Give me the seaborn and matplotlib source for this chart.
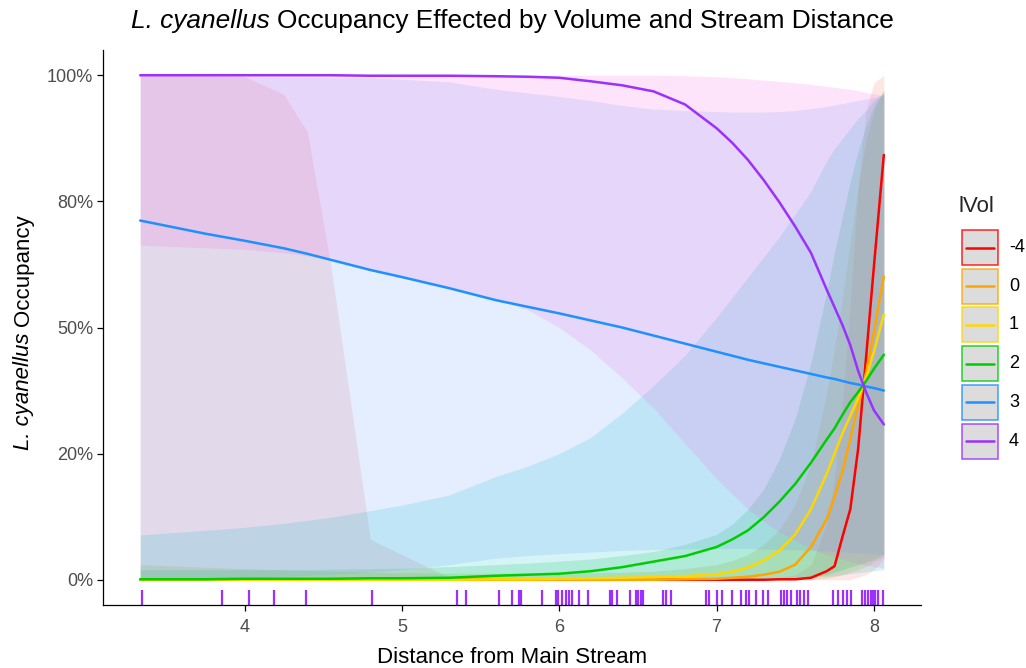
import numpy as np
import pandas as pd
import matplotlib
matplotlib.use("Agg")
import matplotlib.pyplot as plt
import seaborn as sns
from matplotlib.patches import Rectangle
from matplotlib.lines import Line2D

# ---------------- data ----------------
levels = ["-4", "0", "1", "2", "3", "4"]
line_colors = ["#FF0000", "#FFA500", "#FFD700", "#00CD00", "#1E90FF", "#9B30FF"]
fill_colors = ["#F8766D", "#B79F00", "#00BA38", "#00BFC4", "#619CFF", "#F564E3"]

dist = [3.337, 3.75, 4.0, 4.25, 4.4, 4.55, 4.8, 5.0, 5.3, 5.6, 5.8, 6.0, 6.2, 6.4, 6.6, 6.8,
        7.0, 7.1, 7.2, 7.3, 7.4, 7.5, 7.6, 7.7, 7.75, 7.8, 7.85, 7.9, 7.95, 8.0, 8.063]

# predicted occupancy per lVol level
fit_m4 = [0, 0, 0, 0, 0, 0, 0, 0, 0, 0, 0, 0, 0, 0, 0, 0,
          0, 0, 0, 0, 0.001, 0.001, 0.004, 0.017, 0.027, 0.085, 0.14, 0.26, 0.44, 0.621, 0.842]
fit_0 = [0, 0, 0, 0, 0, 0, 0, 0, 0, 0, 0, 0, 0, 0, 0, 0.001,
         0.002, 0.004, 0.006, 0.010, 0.016, 0.03, 0.065, 0.12, 0.165, 0.215, 0.28, 0.345, 0.41, 0.492, 0.601]
fit_1 = [0, 0, 0, 0, 0, 0, 0, 0, 0, 0.001, 0.001, 0.002, 0.003, 0.004, 0.005, 0.007,
         0.011, 0.016, 0.024, 0.038, 0.058, 0.09, 0.14, 0.21, 0.25, 0.29, 0.325, 0.36, 0.40, 0.452, 0.526]
fit_2 = [0.001, 0.001, 0.002, 0.002, 0.002, 0.002, 0.003, 0.003, 0.004, 0.008, 0.010, 0.012, 0.017, 0.025, 0.036, 0.047,
         0.065, 0.080, 0.098, 0.124, 0.155, 0.19, 0.232, 0.278, 0.30, 0.327, 0.352, 0.372, 0.394, 0.418, 0.446]
fit_3 = [0.712, 0.686, 0.672, 0.657, 0.646, 0.634, 0.614, 0.600, 0.578, 0.554, 0.541, 0.528, 0.514, 0.500, 0.484, 0.468,
         0.452, 0.444, 0.436, 0.429, 0.422, 0.415, 0.408, 0.401, 0.398, 0.394, 0.390, 0.387, 0.383, 0.380, 0.375]
fit_4 = [1.0, 1.0, 1.0, 1.0, 1.0, 1.0, 0.999, 0.999, 0.999, 0.998, 0.997, 0.995, 0.988, 0.980, 0.968, 0.942,
         0.895, 0.866, 0.832, 0.792, 0.748, 0.700, 0.648, 0.575, 0.540, 0.505, 0.465, 0.414, 0.372, 0.336, 0.308]

# confidence ribbons (lower / upper)
lo_m4 = [0, 0, 0, 0, 0, 0, 0, 0, 0, 0, 0, 0, 0, 0, 0, 0,
         0, 0, 0, 0, 0, 0, 0, 0, 0, 0, 0, 0.005, 0.01, 0.02, 0.04]
hi_m4 = [1.0, 1.0, 0.998, 0.962, 0.887, 0.62, 0.08, 0.05, 0.005, 0.002, 0.001, 0.001, 0.001, 0.001, 0.001, 0.001,
         0.001, 0.001, 0.002, 0.003, 0.005, 0.01, 0.03, 0.11, 0.2, 0.35, 0.55, 0.78, 0.93, 0.985, 1.0]
lo_0 = [0, 0, 0, 0, 0, 0, 0, 0, 0, 0, 0, 0, 0, 0, 0, 0,
        0, 0, 0, 0, 0, 0, 0, 0.003, 0.006, 0.01, 0.015, 0.02, 0.027, 0.035, 0.045]
hi_0 = [0.03, 0.025, 0.022, 0.02, 0.018, 0.017, 0.015, 0.014, 0.013, 0.013, 0.013, 0.013, 0.014, 0.015, 0.017, 0.022,
        0.03, 0.038, 0.05, 0.07, 0.1, 0.15, 0.23, 0.37, 0.46, 0.56, 0.67, 0.78, 0.87, 0.93, 0.97]
lo_1 = [0, 0, 0, 0, 0, 0, 0, 0, 0, 0, 0, 0, 0, 0, 0, 0,
        0, 0, 0, 0, 0, 0.002, 0.005, 0.01, 0.015, 0.02, 0.025, 0.03, 0.035, 0.04, 0.05]
hi_1 = [0.02, 0.02, 0.02, 0.02, 0.02, 0.021, 0.022, 0.023, 0.026, 0.03, 0.033, 0.037, 0.041, 0.048, 0.056, 0.07,
        0.09, 0.11, 0.14, 0.18, 0.24, 0.32, 0.43, 0.57, 0.65, 0.72, 0.79, 0.85, 0.90, 0.94, 0.97]
lo_2 = [0, 0, 0, 0, 0, 0, 0, 0, 0, 0, 0, 0, 0, 0, 0, 0,
        0, 0.0005, 0.001, 0.0015, 0.002, 0.003, 0.005, 0.007, 0.008, 0.01, 0.012, 0.014, 0.016, 0.018, 0.02]
hi_2 = [0.089, 0.098, 0.104, 0.112, 0.118, 0.124, 0.137, 0.148, 0.168, 0.205, 0.225, 0.25, 0.282, 0.33, 0.385, 0.445,
        0.52, 0.56, 0.60, 0.64, 0.68, 0.725, 0.77, 0.83, 0.855, 0.875, 0.895, 0.915, 0.93, 0.95, 0.965]
lo_3 = [0.0, 0.002, 0.004, 0.007, 0.009, 0.011, 0.015, 0.02, 0.03, 0.043, 0.048, 0.052, 0.055, 0.058, 0.06, 0.061,
        0.062, 0.062, 0.062, 0.061, 0.06, 0.059, 0.058, 0.057, 0.056, 0.055, 0.054, 0.053, 0.052, 0.051, 0.05]
hi_3 = [0.999, 0.998, 0.997, 0.996, 0.996, 0.995, 0.995, 0.992, 0.987, 0.972, 0.965, 0.958, 0.95, 0.94, 0.933, 0.93,
        0.928, 0.927, 0.927, 0.927, 0.928, 0.93, 0.934, 0.938, 0.941, 0.944, 0.947, 0.95, 0.953, 0.956, 0.96]
lo_4 = [0.663, 0.658, 0.655, 0.648, 0.642, 0.634, 0.614, 0.600, 0.578, 0.556, 0.535, 0.50, 0.455, 0.40, 0.34, 0.27,
        0.20, 0.17, 0.14, 0.115, 0.095, 0.078, 0.062, 0.05, 0.045, 0.04, 0.036, 0.032, 0.029, 0.026, 0.023]
hi_4 = [1.0, 1.0, 1.0, 1.0, 1.0, 1.0, 1.0, 1.0, 1.0, 1.0, 1.0, 1.0, 1.0, 1.0, 1.0, 0.999,
        0.997, 0.995, 0.993, 0.99, 0.988, 0.985, 0.982, 0.978, 0.976, 0.974, 0.972, 0.969, 0.966, 0.963, 0.96]

# distances of the observed sites (rug)
site_dist = [3.346, 3.859, 4.027, 4.185, 4.391, 4.808, 5.350, 5.405, 5.617, 5.703, 5.744, 5.759,
             5.892, 5.981, 5.994, 6.019, 6.044, 6.063, 6.082, 6.127, 6.184, 6.323, 6.335, 6.367,
             6.449, 6.487, 6.500, 6.519, 6.532, 6.658, 6.677, 6.709, 6.930, 6.949, 7.000, 7.032,
             7.095, 7.158, 7.184, 7.209, 7.253, 7.297, 7.329, 7.411, 7.430, 7.449, 7.475, 7.513,
             7.532, 7.557, 7.582, 7.741, 7.772, 7.804, 7.829, 7.854, 7.924, 7.943, 7.962, 7.981,
             7.994, 8.006, 8.025, 8.057]

y_ticks = [0, 0.25, 0.5, 0.75, 1.0]
y_tick_labels = ["0%", "20%", "50%", "80%", "100%"]
x_ticks = [4, 5, 6, 7, 8]

title_italic = "L. cyanellus"
title_rest = "Occupancy Effected by Volume and Stream Distance"
xlabel_text = "Distance from Main Stream"
ylabel_rest = "Occupancy"
legend_title = "lVol"

fits = [fit_m4, fit_0, fit_1, fit_2, fit_3, fit_4]
los = [lo_m4, lo_0, lo_1, lo_2, lo_3, lo_4]
his = [hi_m4, hi_0, hi_1, hi_2, hi_3, hi_4]

df = pd.concat([pd.DataFrame({"dist": dist, "fit": f, "lo": l, "hi": h, "lVol": lev})
                for lev, f, l, h in zip(levels, fits, los, his)], ignore_index=True)

# ---------------- styling ----------------
sns.set_style("ticks")
plt.rcParams["font.family"] = ["Liberation Sans", "DejaVu Sans"]

W, H = 1026, 668
fig = plt.figure(figsize=(W / 100, H / 100), dpi=100)
L, R, T, B = 103, 921, 50, 605
ax = fig.add_axes([L / W, 1 - B / H, (R - L) / W, (B - T) / H])

# ribbons
for lev, fc in zip(levels, fill_colors):
    d = df[df["lVol"] == lev]
    ax.fill_between(d["dist"], d["lo"], d["hi"], color=fc, alpha=0.17, linewidth=0)

# lines
sns.lineplot(data=df, x="dist", y="fit", hue="lVol", hue_order=levels,
             palette=dict(zip(levels, line_colors)), estimator=None,
             linewidth=1.8, legend=False, ax=ax)

# rug
sns.rugplot(x=site_dist, height=0.027, color="#9B30FF", linewidth=1.6, ax=ax)

xmin, xmax = min(dist), max(dist)
pad = 0.05 * (xmax - xmin)
ax.set_xlim(xmin - pad, xmax + pad)
ax.set_ylim(-0.05, 1.05)
ax.set_xticks(x_ticks)
ax.set_yticks(y_ticks)
ax.set_yticklabels(y_tick_labels)
for s in ["top", "right"]:
    ax.spines[s].set_visible(False)
for s in ["left", "bottom"]:
    ax.spines[s].set_linewidth(0.9)
    ax.spines[s].set_color("black")
ax.tick_params(axis="both", length=4, width=0.9, color="black",
               labelsize=13, labelcolor="#4D4D4D", pad=3)
ax.tick_params(axis="x", pad=6)

ax.set_xlabel(xlabel_text, fontsize=16, color="black")
ax.xaxis.set_label_coords(0.5, -0.075)
ax.set_ylabel("")

renderer = fig.canvas.get_renderer()


def text_width(s, size, style):
    t = fig.text(0, 0, s, fontsize=size, style=style)
    w = t.get_window_extent(renderer).width
    t.remove()
    return w


def mixed_text(pieces, cx, cy, size, vertical=False):
    """pieces: list of (string, style); cx, cy: pixel centre (from top-left); baseline-aligned."""
    space = text_width("x x", size, "normal") - text_width("xx", size, "normal")
    widths = [text_width(s, size, st) for s, st in pieces]
    total = sum(widths) + space * (len(pieces) - 1)
    pos = -total / 2
    for (s, st), w in zip(pieces, widths):
        if vertical:
            x, y = cx / W, 1 - cy / H + pos / H
            fig.text(x, y, s, fontsize=size, style=st, rotation=90, rotation_mode="anchor",
                     ha="left", va="baseline", color="black")
        else:
            x, y = (cx + pos) / W, 1 - cy / H
            fig.text(x, y, s, fontsize=size, style=st, ha="left", va="baseline", color="black")
        pos += w + space


mixed_text([(title_italic, "italic"), (title_rest, "normal")], (L + R) / 2, 28, 18.9)
mixed_text([(title_italic, "italic"), (ylabel_rest, "normal")], 29, 332, 16, vertical=True)

# legend (drawn by hand to mimic ggplot keys)
fig.text(959 / W, 1 - 207 / H, legend_title, ha="left", va="center", fontsize=16)
key_top = 230
for i, (lev, lc) in enumerate(zip(levels, line_colors)):
    top = key_top + i * 38.7
    rect = Rectangle((962 / W, 1 - (top + 35) / H), 36 / W, 35 / H,
                     transform=fig.transFigure, facecolor="#D6D6D6",
                     edgecolor=lc, linewidth=1.1, alpha=0.85)
    fig.add_artist(rect)
    yc = 1 - (top + 17.5) / H
    fig.add_artist(Line2D([966 / W, 994 / W], [yc, yc], transform=fig.transFigure,
                          color=lc, linewidth=1.8))
    fig.text(1009 / W, yc, lev, ha="left", va="center", fontsize=13, color="black")

fig.savefig("out.png", dpi=100)
